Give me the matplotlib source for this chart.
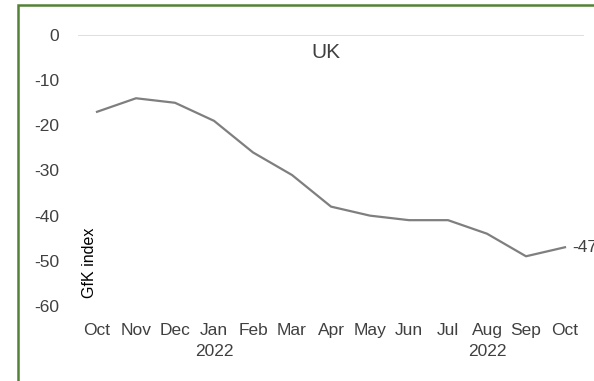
import matplotlib
matplotlib.use("Agg")
import matplotlib.pyplot as plt
from matplotlib.patches import Rectangle

# GfK consumer confidence, UK, Oct 2021 - Oct 2022
months = ["Oct", "Nov", "Dec", "Jan\n2022", "Feb", "Mar", "Apr", "May",
          "Jun", "Jul", "Aug\n2022", "Sep", "Oct"]
gfk = [-17, -14, -15, -19, -26, -31, -38, -40, -41, -41, -44, -49, -47]
yticks = [0, -10, -20, -30, -40, -50, -60]

plt.rcParams['font.family'] = ['Liberation Sans Narrow', 'Liberation Sans', 'DejaVu Sans']
plt.rcParams['axes.unicode_minus'] = False
txt = '#404040'

fig = plt.figure(figsize=(5.94, 3.81), dpi=100)
ax = fig.add_axes([0.1305, 0.197, 0.8535, 0.711])

x = list(range(len(months)))
ax.plot(x, gfk, color='#7f7f7f', lw=1.6, solid_joinstyle='round')
ax.axhline(0, color='#d9d9d9', lw=1.2, zorder=0)

ax.set_xlim(-0.5, len(months) - 0.5)
ax.set_ylim(-60, 0)
ax.set_yticks(yticks)
ax.set_xticks(x)
ax.set_xticklabels(months, linespacing=1.5)
ax.tick_params(axis='x', length=0, pad=12.5, labelsize=12.5, labelcolor=txt)
ax.tick_params(axis='y', length=0, pad=13, labelsize=12.5, labelcolor=txt)
for s in ax.spines.values():
    s.set_visible(False)

ax.text(5.87, -3.8, "UK", fontsize=15, color=txt, ha='center', va='center',
        family=['Liberation Sans', 'DejaVu Sans'])
ax.text(-0.18, -50.5, "GfK index", rotation=90, fontsize=11.5, color='black',
        ha='center', va='center')
ax.annotate(str(gfk[-1]), (x[-1], gfk[-1]), xytext=(5, 0), textcoords='offset points',
            fontsize=12.5, color=txt, va='center', ha='left', annotation_clip=False)

# green frame around the chart
fig.patches.append(Rectangle((18 / 594, -0.05), 1.2, 1 - 5 / 381 + 0.05,
                             transform=fig.transFigure, fill=False,
                             edgecolor='#548235', lw=1.8))

fig.savefig("out.png", dpi=100)
